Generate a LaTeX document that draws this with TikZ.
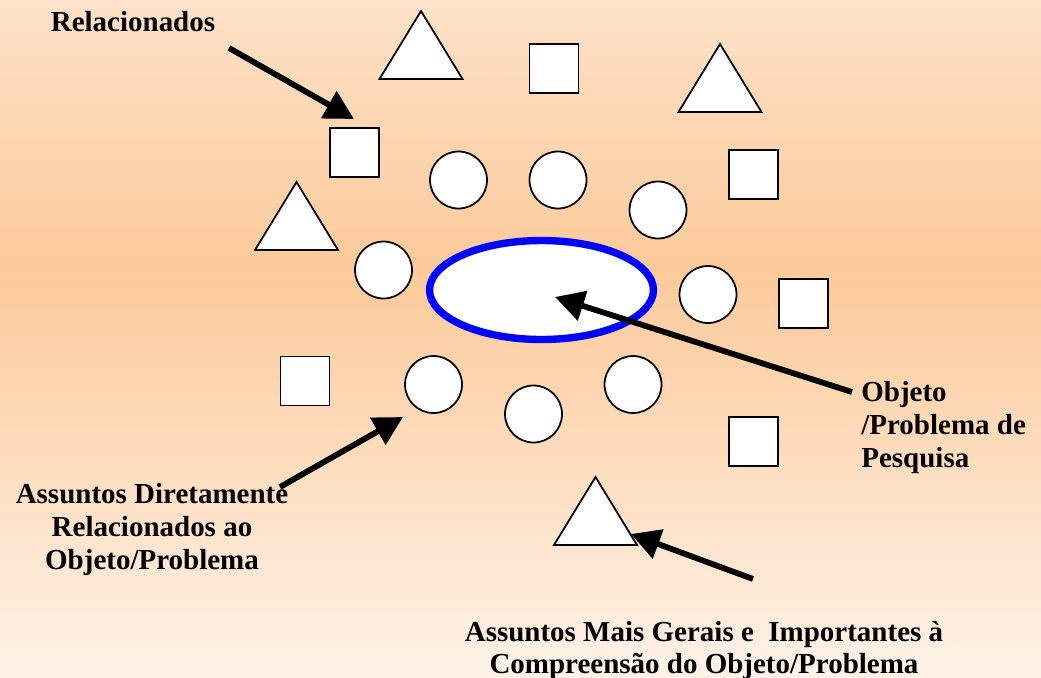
\documentclass[tikz,border=0pt]{standalone}
\usepackage{fontspec}
\setmainfont{Liberation Serif}
\usepackage{tikz}
\usetikzlibrary{shapes.geometric, arrows.meta}
\definecolor{bgTop}{RGB}{253,225,200}
\definecolor{bgMiddle}{RGB}{252,202,154}
\definecolor{bgBottom}{RGB}{254,242,232}
\definecolor{objectBlue}{RGB}{0,0,255}
\pgfdeclareverticalshading{backgroundFade}{100bp}{color(0bp)=(bgBottom); color(25bp)=(bgBottom); color(55bp)=(bgMiddle); color(75bp)=(bgTop); color(100bp)=(bgTop)}
\tikzstyle{canvas} = [x = 0.02cm, y = -0.02cm]
\tikzstyle{shapeStyle} = [draw=black, fill=white, line width=1pt]
\tikzstyle{subjectSquare} = [shapeStyle, rectangle, minimum size=0.98cm, inner sep=0pt]
\tikzstyle{subjectCircle} = [shapeStyle, circle, minimum size=1.14cm, inner sep=0pt]
\tikzstyle{objectEllipse} = [draw=objectBlue, fill=white, ellipse, line width=4.2pt, minimum width=4.48cm, minimum height=1.98cm, inner sep=0pt]
\tikzstyle{pointer} = [-{Triangle[length=0.58cm, width=0.6cm]}, line width=3.3pt]
\tikzstyle{labelText} = [font=\fontsize{16.5}{19}\selectfont\bfseries, inner sep=0pt]
\newcommand{\subjectTriangle}[3]{\filldraw [shapeStyle] (#2, #3) -- ++(41.5, 68) -- ++(-83, 0) -- cycle; \coordinate (#1) at (#2, #3 + 45);}

\begin{document}
\begin{tikzpicture}[canvas]
        \useasboundingbox (0, 0) rectangle (1041, 677);
        \shade [shading=backgroundFade] (0, 0) rectangle (1041, 677);

        % central object
        \node [objectEllipse] (object) at (541.5, 290) {};

        % directly related subjects
        \foreach \name/\x/\y in {circleA/458.5/180, circleB/558/180, circleC/658/210, circleD/383.5/270,
                                 circleE/708/294.5, circleF/433.5/384.5, circleG/533.5/414, circleH/633/384.5}
          \node [subjectCircle] (\name) at (\x, \y) {};

        % related subjects
        \foreach \name/\x/\y in {squareA/554/68.5, squareB/354.5/152.5, squareC/753.5/174.5,
                                 squareD/803.5/303.5, squareE/305/381, squareF/753.5/441.5}
          \node [subjectSquare] (\name) at (\x, \y) {};

        % general subjects
        \subjectTriangle{triangleA}{421}{11}
        \subjectTriangle{triangleB}{720}{44}
        \subjectTriangle{triangleC}{296.5}{182}
        \subjectTriangle{triangleD}{595.5}{477}

        \node [labelText, anchor=base west] (related) at (50.5, 31.7) {Relacionados};
        \node [labelText, align=left, anchor=west] (objectText) at (861, 427.5) {Objeto\\/Problema de\\Pesquisa};
        \node [labelText, align=center] (directText) at (152, 529.5) {Assuntos Diretamente\\Relacionados ao\\Objeto/Problema};
        \node [labelText, font=\fontsize{16.5}{18}\selectfont\bfseries, align=center] (generalText) at (704, 650.5) {Assuntos Mais Gerais e\ \ Importantes à\\Compreensão do Objeto/Problema};

        \coordinate (relatedTail) at (229, 48);
        \coordinate (relatedHead) at (354, 119);
        \coordinate (objectTail) at (852, 392);
        \coordinate (objectHead) at (555, 297);
        \coordinate (directTail) at (280, 487);
        \coordinate (directHead) at (403, 417);
        \coordinate (generalTail) at (753, 579);
        \coordinate (generalHead) at (631, 534);

        \draw [pointer] (relatedTail) -- (relatedHead);
        \draw [pointer] (objectTail) -- (objectHead);
        \draw [pointer] (directTail) -- (directHead);
        \draw [pointer] (generalTail) -- (generalHead);
      \end{tikzpicture}
\end{document}
